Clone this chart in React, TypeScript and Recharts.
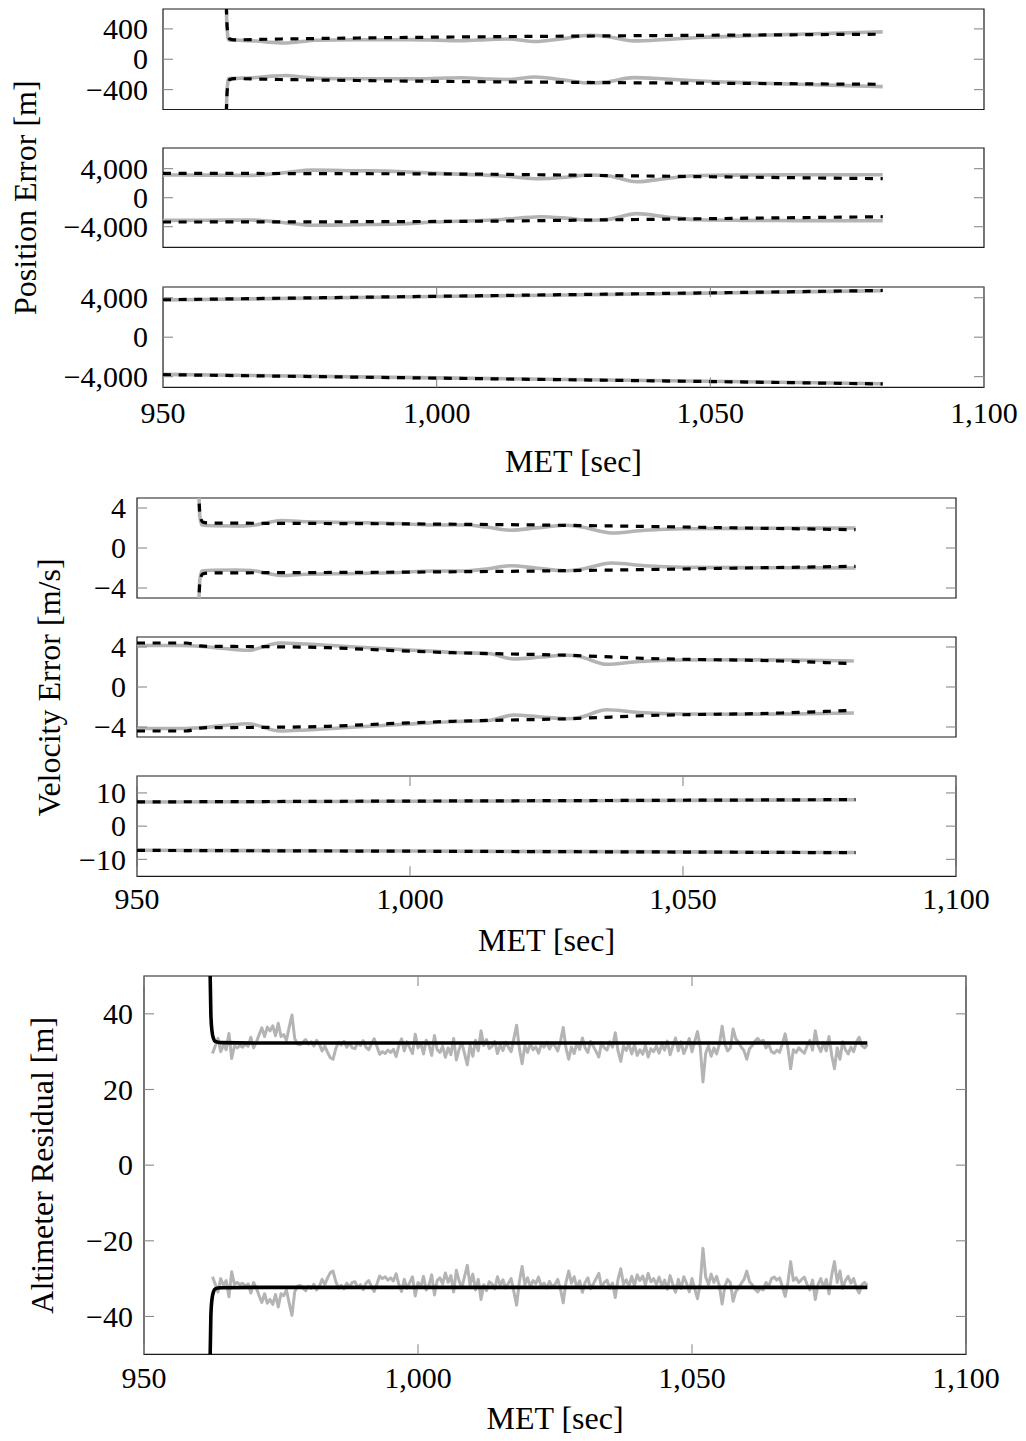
import React from 'react';
import { LineChart, Line, XAxis, YAxis, ReferenceArea } from 'recharts';

// ---------- shared styling ----------
const FONT = '"Liberation Serif", "Times New Roman", Times, serif';
const TICK_FS = 30;
const TITLE_FS = 32;
const GRAY = '#b4b4b4';
const TICK_COLOR = '#8a8a8a';
const FRAME = '#1a1a1a';
const TICK_LEN = 10;
const PAGE_W = 1026;

// ---------- time axis (mission elapsed time) ----------
const MET_DOMAIN: [number, number] = [950, 1100];
const MET_TICKS = [950, 1000, 1050, 1100];

// ---------- position error, X channel ----------
const POSX_SIG_T = [961.5, 961.75, 962.2, 963, 970, 980, 990, 1000, 1010, 1020, 1030, 1040, 1050, 1060, 1070, 1081.5];
const POSX_SIG = [900, 400, 268, 256, 265, 275, 284, 291, 297, 302, 307, 312, 316, 320, 325, 330];
const POSX_ERR_T = [961.5, 961.7, 962.0, 964, 967, 970, 972.5, 975, 978, 985, 995, 1000, 1004.5, 1010, 1013, 1018, 1023, 1028, 1031, 1036, 1042, 1048, 1056, 1066, 1075, 1081.5];
const POSX_ERR = [900, 420, 255, 250, 240, 222, 214, 230, 250, 257, 258, 252, 243, 262, 266, 234, 272, 316, 300, 242, 262, 286, 308, 330, 348, 360];

// ---------- position error, Y channel ----------
const POSY_SIG_T = [950, 960, 970, 980, 990, 1000, 1010, 1020, 1030, 1040, 1050, 1060, 1070, 1081.5];
const POSY_SIG = [3350, 3345, 3335, 3320, 3300, 3275, 3230, 3150, 3060, 2975, 2890, 2800, 2715, 2620];
const POSY_ERR_T = [950, 958, 966, 973, 977, 985, 993, 1000, 1008, 1012, 1019, 1024, 1028, 1031.5, 1036.5, 1042, 1048, 1056, 1066, 1075, 1081.5];
const POSY_ERR = [3130, 3110, 3080, 3500, 3800, 3720, 3620, 3350, 3150, 3000, 2620, 2850, 3120, 2980, 2200, 2650, 3050, 3120, 3160, 3170, 3170];

// ---------- position error, Z channel ----------
const POSZ_T = [950, 1000, 1050, 1081.5];
const POSZ_SIG = [3800, 4150, 4500, 4740];
const POSZ_ERR = [3770, 4120, 4470, 4715];

// ---------- velocity error, X channel ----------
const VELX_SIG_T = [961.3, 961.5, 962, 963, 980, 1000, 1020, 1035, 1050, 1065, 1081.6];
const VELX_SIG = [6, 3.5, 2.6, 2.5, 2.46, 2.41, 2.32, 2.22, 2.1, 1.97, 1.83];
const VELX_ERR_T = [961.3, 961.5, 961.9, 964, 968, 971, 974, 976.5, 980, 990, 998, 1004, 1010, 1014, 1018.5, 1023, 1028.5, 1031, 1037, 1043, 1050, 1065, 1081.6];
const VELX_ERR = [6, 3.2, 2.3, 2.22, 2.2, 2.25, 2.55, 2.75, 2.65, 2.55, 2.45, 2.3, 2.3, 2.1, 1.78, 2.0, 2.28, 2.15, 1.5, 1.78, 1.93, 1.97, 2.0];

// ---------- velocity error, Y channel ----------
const VELY_SIG_T = [950, 959, 961.5, 963, 972, 985, 996, 1008, 1029, 1044, 1068, 1081.3];
const VELY_SIG = [4.4, 4.4, 4.12, 4.07, 4.04, 3.93, 3.67, 3.43, 3.17, 2.85, 2.6, 2.33];
const VELY_ERR_T = [950, 958, 962, 966, 970.3, 976.2, 981, 990, 1000, 1008.5, 1014.4, 1019, 1024, 1028.7, 1031, 1036, 1042, 1050, 1060, 1070, 1081.3];
const VELY_ERR = [4.15, 4.15, 4.05, 3.85, 3.67, 4.4, 4.3, 4.0, 3.7, 3.45, 3.35, 2.8, 3.0, 3.17, 3.05, 2.27, 2.55, 2.7, 2.72, 2.7, 2.6];

// ---------- velocity error, Z channel ----------
const VELZ_T = [950, 1000, 1050, 1081.6];
const VELZ_SIG = [7.3, 7.55, 7.8, 8.0];
const VELZ_ERR = [7.25, 7.5, 7.75, 7.95];

// ---------- altimeter residual ----------
const ALT_FILTER_T = [962.0, 962.2, 962.4, 962.7, 963.0, 964.0, 970, 1082];
const ALT_FILTER = [56, 40, 35.5, 33.4, 32.7, 32.4, 32.3, 32.3];
// measurement residual magnitude, sampled every 0.5 s starting at 962.5 s
const ALT_RESID_T0 = 962.5;
const ALT_RESID_DT = 0.5;
const ALT_RESID = [
  29.5, 31.5, 33.5, 30.0, 31.8, 30.5, 34.8, 28.2, 31.5, 31.0, 31.6, 31.2, 32.0, 31.4, 33.8, 31.0, 32.5, 34.5, 36.3, 34.0,
  36.5, 35.5, 36.8, 34.2, 37.5, 34.0, 34.5, 33.0, 36.5, 39.7, 33.5, 32.0, 31.8, 32.5, 33.2, 32.0, 32.6, 31.5, 33.0, 32.0,
  30.2, 31.5, 29.8, 28.4, 28.0, 30.8, 32.5, 31.8, 32.7, 31.2, 32.3, 31.0, 30.8, 32.4, 31.6, 32.9, 31.2, 30.5, 32.0, 33.4,
  31.4, 29.3, 30.0, 29.5, 30.4, 29.8, 30.6, 28.7, 31.5, 33.4, 30.2, 32.6, 31.0, 29.5, 34.6, 31.0, 32.3, 29.4, 33.0, 31.8,
  29.0, 34.3, 30.5, 29.8, 31.4, 28.5, 31.0, 29.2, 33.5, 27.8, 30.6, 32.4, 29.4, 26.5, 31.7, 28.8, 33.0, 30.2, 35.5, 31.6,
  33.2, 30.8, 31.4, 32.7, 29.5, 31.8, 30.3, 32.5, 31.2, 30.0, 33.5, 37.0, 30.8, 26.8, 31.6, 29.8, 32.1, 30.5, 31.3, 29.6,
  32.0, 31.2, 32.5, 30.7, 32.2, 31.5, 30.2, 32.8, 36.4, 31.0, 28.0, 31.2, 29.5, 32.4, 30.6, 33.6, 31.0, 29.8, 32.7, 31.4,
  30.0, 28.6, 32.4, 31.0, 30.4, 32.6, 31.2, 35.0, 30.2, 27.4, 31.5, 30.3, 32.0, 29.4, 31.8, 29.0, 30.5, 29.3, 31.6, 28.6,
  30.8, 30.0, 31.5, 29.6, 31.9, 30.4, 32.8, 29.2, 31.5, 33.6, 30.2, 32.6, 29.5, 31.2, 33.5, 30.0, 32.7, 35.3, 31.2, 22.0,
  29.6, 31.5, 28.8, 31.0, 29.4, 32.0, 36.7, 32.0, 30.2, 31.0, 36.0, 33.4, 32.5, 31.2, 30.2, 28.0, 30.8, 31.6, 32.8, 33.5,
  32.5, 33.0, 31.0, 32.0, 30.0, 29.6, 30.4, 29.8, 32.2, 34.7, 31.0, 25.5, 30.5, 29.8, 31.0, 30.2, 29.6, 31.5, 33.0, 30.4,
  35.5, 31.6, 30.0, 32.3, 30.2, 34.0, 29.0, 25.5, 31.0, 28.0, 32.6, 30.5, 29.4, 31.2, 30.0, 32.5, 33.8, 31.6, 31.0, 31.8,
];
const ALT_RESID_T = ALT_RESID.map((_, i) => ALT_RESID_T0 + i * ALT_RESID_DT);

// ---------- helpers ----------
type Pt = { t: number; v: number };
type TraceKind = 'err' | 'sigma' | 'filter' | 'resid';
type Trace = { id: string; kind: TraceKind; data: Pt[] };

const series = (t: number[], v: number[], sign: number): Pt[] => t.map((x, i) => ({ t: x, v: sign * v[i] }));

// each quantity is plotted as a symmetric +/- envelope
const envelope = (id: string, kind: TraceKind, t: number[], v: number[]): Trace[] => [
  { id: `${id}-pos`, kind, data: series(t, v, 1) },
  { id: `${id}-neg`, kind, data: series(t, v, -1) },
];

const fmtTick = (n: number) => (n < 0 ? '\u2212' : '') + Math.abs(n).toLocaleString('en-US');

const traceStyle: Record<TraceKind, any> = {
  err: { stroke: GRAY, strokeWidth: 3.6, type: 'monotone' },
  sigma: { stroke: '#000', strokeWidth: 3.2, strokeDasharray: '8 7.6', type: 'monotone' },
  filter: { stroke: '#000', strokeWidth: 3.6, type: 'monotone' },
  resid: { stroke: GRAY, strokeWidth: 3, type: 'linear', strokeLinejoin: 'round' },
};

type PanelProps = {
  top: number;
  bottom: number;
  left: number;
  right: number;
  gap: number;
  yDomain: [number, number];
  yTicks: number[];
  traces: Trace[];
  xLabelY?: number;
  xTitleBase?: number;
  yTitle?: string;
  yTitleBase?: number;
  yTitleCenter?: number;
};

function Panel(p: PanelProps) {
  // room around the plot box so tick labels and the rotated title are not clipped
  const padTop = p.yTitle ? 170 : 24;
  const padBottom = p.yTitle ? 170 : 24;
  const chartTop = p.top - padTop;
  const plotH = p.bottom - p.top;
  const showX = p.xLabelY !== undefined;
  const xAxisH = showX ? (p.xTitleBase as number) - p.bottom + 14 : 0;
  const height = padTop + plotH + xAxisH + padBottom;
  const sy = (y: number) => y - chartTop;
  const plotTopS = padTop;
  const plotBotS = padTop + plotH;

  const yTick = (props: any) => {
    const y = props.y;
    return (
      <g>
        <line x1={p.left} x2={p.left + TICK_LEN} y1={y} y2={y} stroke={TICK_COLOR} strokeWidth={1.1} />
        <line x1={p.right - TICK_LEN} x2={p.right} y1={y} y2={y} stroke={TICK_COLOR} strokeWidth={1.1} />
        <text x={p.left - p.gap} y={y + 0.338 * TICK_FS} textAnchor="end" fontFamily={FONT} fontSize={TICK_FS} fill="#000">
          {fmtTick(props.payload.value)}
        </text>
      </g>
    );
  };

  const xTick = (props: any) => {
    const x = props.x;
    return (
      <g>
        <line x1={x} x2={x} y1={plotBotS} y2={plotBotS - TICK_LEN} stroke={TICK_COLOR} strokeWidth={1.1} />
        <line x1={x} x2={x} y1={plotTopS} y2={plotTopS + TICK_LEN} stroke={TICK_COLOR} strokeWidth={1.1} />
        <text x={x} y={sy(p.xLabelY as number) + 0.338 * TICK_FS} textAnchor="middle" fontFamily={FONT} fontSize={TICK_FS} fill="#000">
          {fmtTick(props.payload.value)}
        </text>
      </g>
    );
  };

  const xTitle = showX
    ? {
        content: () => (
          <text x={(p.left + p.right) / 2} y={sy(p.xTitleBase as number)} textAnchor="middle" fontFamily={FONT} fontSize={TITLE_FS} fill="#000">
            MET [sec]
          </text>
        ),
      }
    : undefined;

  const yTitle = p.yTitle
    ? {
        content: () => {
          const x = p.yTitleBase as number;
          const y = sy(p.yTitleCenter as number);
          return (
            <text x={x} y={y} transform={`rotate(-90 ${x} ${y})`} textAnchor="middle" fontFamily={FONT} fontSize={TITLE_FS} fill="#000">
              {p.yTitle}
            </text>
          );
        },
      }
    : undefined;

  return (
    <div style={{ position: 'absolute', left: 0, top: chartTop }}>
      <LineChart width={PAGE_W} height={height} margin={{ top: padTop, right: PAGE_W - p.right, bottom: padBottom, left: 2 }}>
        <XAxis
          type="number"
          dataKey="t"
          domain={MET_DOMAIN}
          allowDataOverflow
          ticks={MET_TICKS}
          interval={0}
          hide={!showX}
          height={showX ? xAxisH : 0}
          axisLine={false}
          tickLine={false}
          tick={showX ? xTick : false}
          label={xTitle}
        />
        <YAxis
          type="number"
          domain={p.yDomain}
          allowDataOverflow
          ticks={p.yTicks}
          interval={0}
          width={p.left - 2}
          axisLine={false}
          tickLine={false}
          tick={yTick}
          label={yTitle}
        />
        {p.traces.map((tr) => {
          const s = traceStyle[tr.kind];
          return (
            <Line
              key={tr.id}
              data={tr.data}
              dataKey="v"
              type={s.type}
              stroke={s.stroke}
              strokeWidth={s.strokeWidth}
              strokeDasharray={s.strokeDasharray}
              strokeLinejoin={s.strokeLinejoin}
              dot={false}
              activeDot={false}
              isAnimationActive={false}
            />
          );
        })}
        <ReferenceArea
          x1={MET_DOMAIN[0]}
          x2={MET_DOMAIN[1]}
          y1={p.yDomain[0]}
          y2={p.yDomain[1]}
          fill="none"
          stroke={FRAME}
          strokeWidth={1.2}
          ifOverflow="visible"
        />
      </LineChart>
    </div>
  );
}

const POS = { left: 163, right: 984, gap: 15 };
const VEL = { left: 137, right: 956, gap: 11 };
const ALT = { left: 144, right: 966, gap: 11 };

export default function App() {
  return (
    <div style={{ position: 'absolute', left: 0, top: 0, width: PAGE_W, height: 1441, background: '#fff' }}>
      {/* position error */}
      <Panel
        {...POS}
        top={9}
        bottom={109.5}
        yDomain={[-662, 662]}
        yTicks={[-400, 0, 400]}
        traces={[...envelope('px-err', 'err', POSX_ERR_T, POSX_ERR), ...envelope('px-sig', 'sigma', POSX_SIG_T, POSX_SIG)]}
      />
      <Panel
        {...POS}
        top={148.3}
        bottom={247.7}
        yDomain={[-6850, 6850]}
        yTicks={[-4000, 0, 4000]}
        traces={[...envelope('py-err', 'err', POSY_ERR_T, POSY_ERR), ...envelope('py-sig', 'sigma', POSY_SIG_T, POSY_SIG)]}
        yTitle="Position Error [m]"
        yTitleBase={36}
        yTitleCenter={198}
      />
      <Panel
        {...POS}
        top={287.3}
        bottom={387.7}
        yDomain={[-5090, 5090]}
        yTicks={[-4000, 0, 4000]}
        traces={[...envelope('pz-err', 'err', POSZ_T, POSZ_ERR), ...envelope('pz-sig', 'sigma', POSZ_T, POSZ_SIG)]}
        xLabelY={413}
        xTitleBase={472}
      />

      {/* velocity error */}
      <Panel
        {...VEL}
        top={498.3}
        bottom={598.3}
        yDomain={[-5, 5]}
        yTicks={[-4, 0, 4]}
        traces={[...envelope('vx-err', 'err', VELX_ERR_T, VELX_ERR), ...envelope('vx-sig', 'sigma', VELX_SIG_T, VELX_SIG)]}
      />
      <Panel
        {...VEL}
        top={636.7}
        bottom={736.7}
        yDomain={[-5, 5]}
        yTicks={[-4, 0, 4]}
        traces={[...envelope('vy-err', 'err', VELY_ERR_T, VELY_ERR), ...envelope('vy-sig', 'sigma', VELY_SIG_T, VELY_SIG)]}
        yTitle="Velocity Error [m/s]"
        yTitleBase={60}
        yTitleCenter={687}
      />
      <Panel
        {...VEL}
        top={775.7}
        bottom={876}
        yDomain={[-15.1, 15.1]}
        yTicks={[-10, 0, 10]}
        traces={[...envelope('vz-err', 'err', VELZ_T, VELZ_ERR), ...envelope('vz-sig', 'sigma', VELZ_T, VELZ_SIG)]}
        xLabelY={899}
        xTitleBase={951}
      />

      {/* altimeter residual */}
      <Panel
        {...ALT}
        top={975.7}
        bottom={1354}
        yDomain={[-50, 50]}
        yTicks={[-40, -20, 0, 20, 40]}
        traces={[...envelope('alt-res', 'resid', ALT_RESID_T, ALT_RESID), ...envelope('alt-flt', 'filter', ALT_FILTER_T, ALT_FILTER)]}
        xLabelY={1378}
        xTitleBase={1429}
        yTitle="Altimeter Residual [m]"
        yTitleBase={53}
        yTitleCenter={1165}
      />
    </div>
  );
}
